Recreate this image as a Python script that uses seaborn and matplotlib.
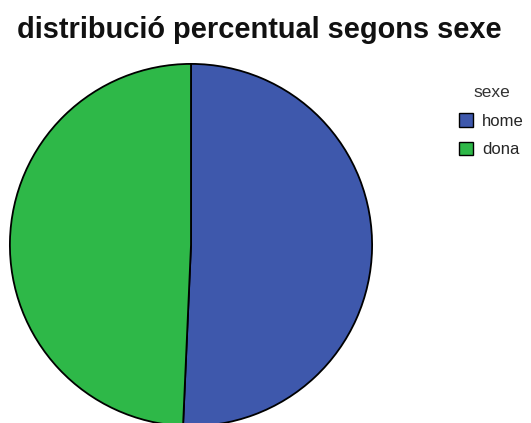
import matplotlib
matplotlib.use("Agg")
import matplotlib.pyplot as plt
import matplotlib.patches as mpatches
import seaborn as sns

# data
CATEGORIES = ['home', 'dona']
PERCENTS = [50.7, 49.3]
COLORS = ['#3E58AC', '#2EB848']

sns.set_theme(style="white")
plt.rcParams['font.family'] = ['Liberation Sans', 'DejaVu Sans']

fig = plt.figure(figsize=(5.31, 4.23), dpi=100)
fig.patch.set_facecolor('white')

# pie axes placed so that the circle sits left, under the title
ax = fig.add_axes([9 / 531, -4 / 423, 364 / 531, 364 / 423])
ax.pie(PERCENTS, colors=COLORS, startangle=90, counterclock=False,
       wedgeprops=dict(edgecolor='black', linewidth=1.3))
ax.set_xlim(-1.005, 1.005)
ax.set_ylim(-1.005, 1.005)
ax.set_aspect('equal')
ax.axis('off')

fig.text(0.489, 0.962, 'distribució percentual segons sexe', ha='center', va='top',
         fontsize=20.9, fontweight='bold', color='#111111')

handles = [mpatches.Patch(facecolor=c, edgecolor='black', linewidth=1.0, label=l)
           for c, l in zip(COLORS, CATEGORIES)]
leg = fig.legend(handles=handles, title='sexe', loc='upper left',
                 bbox_to_anchor=(444 / 531, 1 - 70 / 423), frameon=False,
                 fontsize=12, title_fontsize=12.5, handlelength=0.85, handleheight=0.85,
                 handletextpad=0.55, labelspacing=0.8)
leg.get_title().set_color('#333333')

fig.savefig('out.png', dpi=100)
